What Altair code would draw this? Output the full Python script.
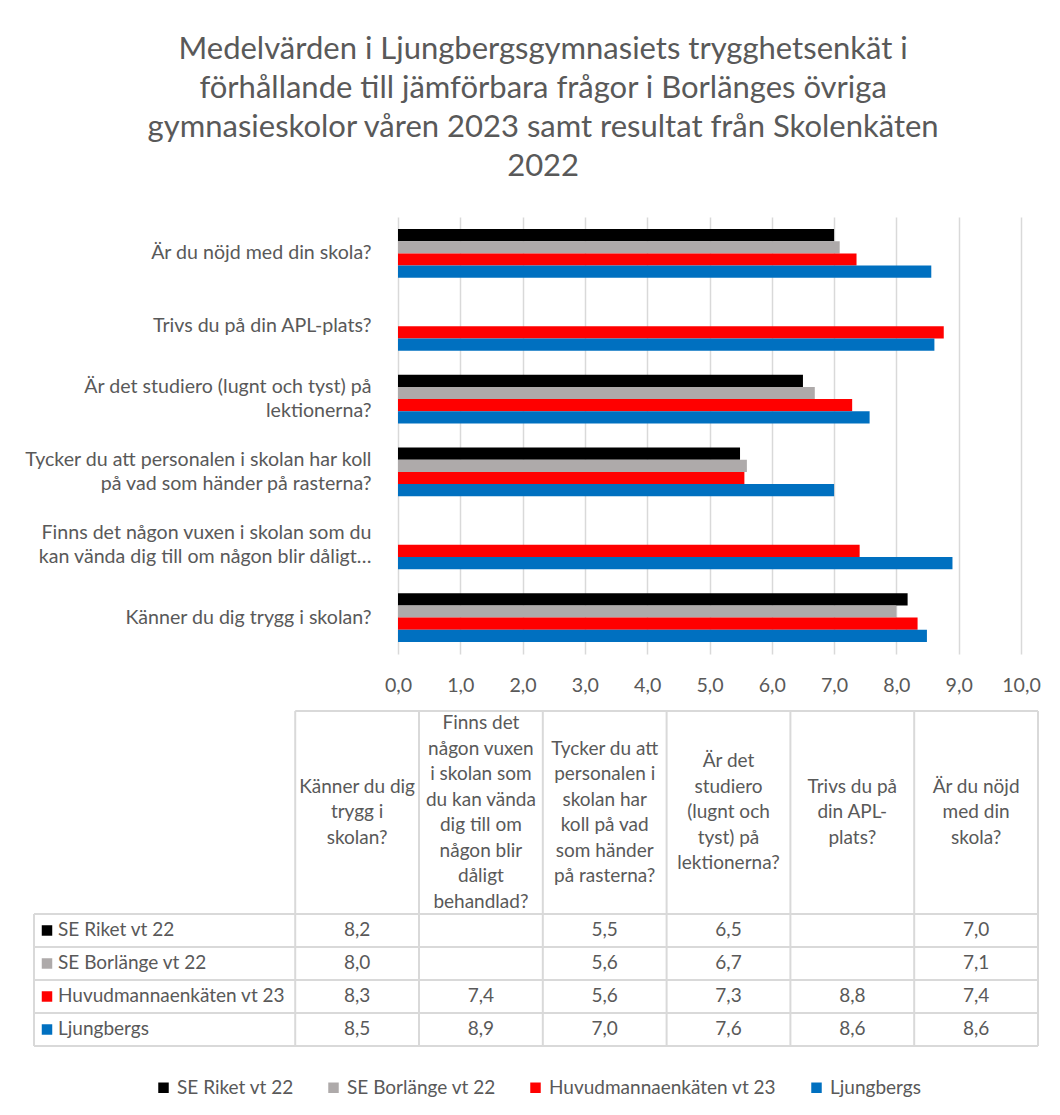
import altair as alt
import pandas as pd

FONT = "Lato"
TXT = "#595959"
GRID = "#d9d9d9"

series = ["SE Riket vt 22", "SE Borlänge vt 22", "Huvudmannaenkäten vt 23", "Ljungbergs"]
colors = ["#000000", "#AEAAAA", "#FF0000", "#0070C0"]

# question order = table column order (left to right) = bar chart bottom to top
axis_labels = [
    "Känner du dig trygg i skolan?",
    "Finns det någon vuxen i skolan som du|kan vända dig till om någon blir dåligt…",
    "Tycker du att personalen i skolan har koll|på vad som händer på rasterna?",
    "Är det studiero (lugnt och tyst) på|lektionerna?",
    "Trivs du på din APL-plats?",
    "Är du nöjd med din skola?",
]
header_labels = [
    "Känner du dig|trygg i|skolan?",
    "Finns det|någon vuxen|i skolan som|du kan vända|dig till om|någon blir|dåligt|behandlad?",
    "Tycker du att|personalen i|skolan har|koll på vad|som händer|på rasterna?",
    "Är det|studiero|(lugnt och|tyst) på|lektionerna?",
    "Trivs du på|din APL-|plats?",
    "Är du nöjd|med din|skola?",
]

riket = [8.18, None, 5.49, 6.50, None, 7.00]
borlange = [8.00, None, 5.60, 6.69, None, 7.09]
huvudman = [8.34, 7.41, 5.56, 7.29, 8.76, 7.36]
ljungbergs = [8.49, 8.90, 7.00, 7.57, 8.61, 8.56]
values_by_series = [riket, borlange, huvudman, ljungbergs]

x_ticks = list(range(11))

FMT = "replace(format(datum.value, '.1f'), '.', ',')"

# ---------- long data ----------
rows = []
for s_i, (s, vals) in enumerate(zip(series, values_by_series)):
    for q_i, v in enumerate(vals):
        if v is not None:
            rows.append({"q": axis_labels[q_i], "series": s, "value": v,
                         "col": q_i + 0.5, "row": s_i})
df = pd.DataFrame(rows)

n_q = len(axis_labels)
n_s = len(series)
name_w = 2.11      # width of the series-name column, in column units
head_h = 6.15      # header height, in row units
TABLE_H = 335
row_px = TABLE_H / (head_h + n_s)
LH = 25.5          # header line height (px)

color_scale = alt.Scale(domain=series, range=colors)

# ---------- bar chart ----------
bars = alt.Chart(df).mark_bar().encode(
    x=alt.X("value:Q",
            scale=alt.Scale(domain=[0, 10], range=[364, 987], nice=False, zero=True),
            axis=alt.Axis(values=x_ticks, labelExpr=FMT, title=None, grid=True,
                          gridColor=GRID, gridWidth=1.5, domain=False, ticks=False,
                          tickSize=0, labelPadding=22, labelFontSize=19.6, labelColor=TXT,
                          labelFont=FONT, labelFlush=False)),
    y=alt.Y("q:N", sort=axis_labels[::-1],
            scale=alt.Scale(paddingInner=0.33, paddingOuter=0.165),
            axis=alt.Axis(title=None, labelExpr="split(datum.label, '|')", offset=-364,
                          domain=False, ticks=False, tickSize=0, labelPadding=27,
                          labelFontSize=19.6, labelColor=TXT, labelFont=FONT,
                          labelLimit=500, labelLineHeight=24,
                          labelOffset={"condition": {"test": "indexof(datum.label, '|') >= 0",
                                                     "value": -12}, "value": 0})),
    yOffset=alt.YOffset("series:N", sort=series,
                        scale=alt.Scale(domain=series, paddingInner=0, paddingOuter=0)),
    color=alt.Color("series:N", scale=color_scale, legend=None),
).properties(width=1004, height=437)

# ---------- data table ----------
vlines = [{"x": float(i), "y": 0.0, "y2": head_h + n_s} for i in range(n_q + 1)]
vlines.append({"x": -name_w, "y": head_h, "y2": head_h + n_s})
hlines = [{"y": 0.0, "x": 0.0, "x2": float(n_q)}]
hlines += [{"y": head_h + k, "x": -name_w, "x2": float(n_q)} for k in range(n_s + 1)]

xs = alt.Scale(domain=[-name_w, n_q], nice=False, zero=False)
ys = alt.Scale(domain=[0, head_h + n_s], reverse=True, nice=False, zero=False)

vl = alt.Chart(pd.DataFrame(vlines)).mark_rule(color=GRID, strokeWidth=2).encode(
    x=alt.X("x:Q", scale=xs, axis=None),
    y=alt.Y("y:Q", scale=ys, axis=None),
    y2="y2:Q",
)
hl = alt.Chart(pd.DataFrame(hlines)).mark_rule(color=GRID, strokeWidth=2).encode(
    x=alt.X("x:Q", scale=xs, axis=None),
    x2="x2:Q",
    y=alt.Y("y:Q", scale=ys, axis=None),
)

head_df = pd.DataFrame({"h": header_labels, "col": [i + 0.5 for i in range(n_q)]})
heads = alt.Chart(head_df).transform_calculate(
    n="length(split(datum.h, '|'))",
).transform_calculate(
    row=f"{head_h / 2} - (datum.n - 1) / 2 * {LH / row_px}",
).mark_text(
    lineBreak="|", fontSize=19, lineHeight=LH, color=TXT, font=FONT,
    align="center", baseline="middle"
).encode(
    x=alt.X("col:Q", scale=xs, axis=None),
    y=alt.Y("row:Q", scale=ys, axis=None),
    text="h:N",
)

cells = alt.Chart(df).transform_calculate(
    label=FMT,
    ry=f"datum.row + {head_h} + 0.5",
).mark_text(fontSize=19, color=TXT, font=FONT, align="center", baseline="middle").encode(
    x=alt.X("col:Q", scale=xs, axis=None),
    y=alt.Y("ry:Q", scale=ys, axis=None),
    text="label:N",
)

name_df = pd.DataFrame({"series": series, "x": [-name_w] * n_s,
                        "ry": [head_h + i + 0.5 for i in range(n_s)]})
names = alt.Chart(name_df).mark_text(
    fontSize=19, color=TXT, font=FONT, align="left", baseline="middle", dx=24
).encode(
    x=alt.X("x:Q", scale=xs, axis=None),
    y=alt.Y("ry:Q", scale=ys, axis=None),
    text="series:N",
)
keys = alt.Chart(name_df).mark_point(shape="square", filled=True, size=110, opacity=1).encode(
    x=alt.X("x:Q", scale=xs, axis=None),
    y=alt.Y("ry:Q", scale=ys, axis=None),
    xOffset=alt.value(13),
    color=alt.Color("series:N", scale=color_scale,
                    legend=alt.Legend(title=None, orient="none", legendX=120, legendY=367,
                                      direction="horizontal", columns=4,
                                      symbolType="square", symbolSize=110,
                                      symbolStrokeWidth=0, labelFontSize=19,
                                      labelColor=TXT, labelFont=FONT, columnPadding=30,
                                      labelOffset=4, padding=0, labelLimit=400)),
)

table = alt.layer(vl, hl, heads, cells, names, keys).properties(width=1004, height=TABLE_H)

chart = alt.vconcat(bars, table, spacing=57, bounds="flush").resolve_scale(
    color="independent"
).properties(
    title=alt.Title(
        ["Medelvärden i Ljungbergsgymnasiets trygghetsenkät i",
         "förhållande till jämförbara frågor i Borlänges övriga",
         "gymnasieskolor våren 2023 samt resultat från Skolenkäten",
         "2022"],
        fontSize=31, lineHeight=39, color=TXT, font=FONT, fontWeight="normal",
        anchor="middle", offset=34, dx=11),
    padding={"top": 26, "left": 15, "right": 6, "bottom": 4},
    background="white",
).configure_view(stroke=None)

chart.save("out.html", embed_options={"renderer": "svg", "actions": False})
